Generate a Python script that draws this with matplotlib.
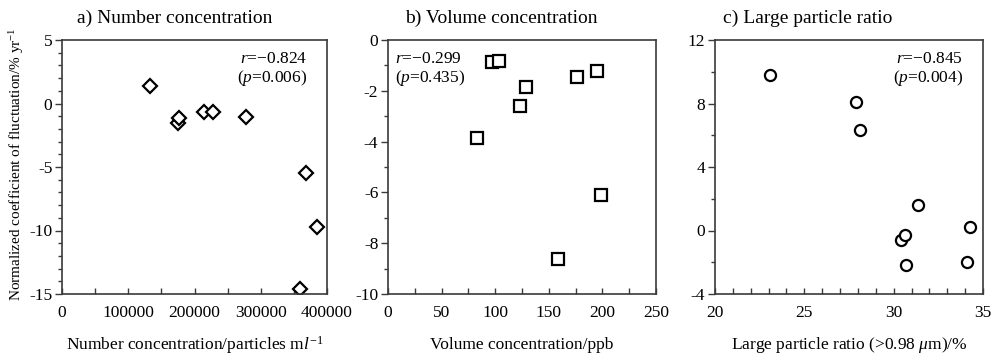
import matplotlib
matplotlib.use("Agg")
import matplotlib.pyplot as plt
from matplotlib.ticker import MultipleLocator

plt.rcParams['font.family'] = ['Liberation Serif', 'DejaVu Serif']
plt.rcParams['mathtext.fontset'] = 'custom'
plt.rcParams['mathtext.rm'] = 'Liberation Serif'
plt.rcParams['mathtext.it'] = 'Liberation Serif:italic'
plt.rcParams['axes.unicode_minus'] = False

# a) number concentration vs normalized coefficient
num_conc = [133000, 175500, 176500, 214000, 228500, 278000, 368000, 385500, 359000]
num_coef = [1.4, -1.5, -1.17, -0.70, -0.64, -1.09, -5.5, -9.7, -14.6]

# b) volume concentration
vol_conc = [97, 104, 129, 123, 83, 176, 195, 199, 159]
vol_coef = [-0.87, -0.84, -1.86, -2.58, -3.86, -1.46, -1.21, -6.09, -8.62]

# c) large particle ratio
lpr = [23.1, 27.9, 28.1, 31.35, 30.4, 30.65, 30.7, 34.25, 34.1]
lpr_coef = [9.8, 8.1, 6.34, 1.62, -0.59, -0.27, -2.17, 0.25, -1.96]

stats = [("-0.824", "0.006"), ("-0.299", "0.435"), ("-0.845", "0.004")]

W, H = 993, 362
fig = plt.figure(figsize=(W / 100, H / 100), dpi=100)

def px_axes(left, right, top=40, bottom=294):
    return fig.add_axes([left / W, (H - bottom) / H, (right - left) / W, (bottom - top) / H])

ax_a = px_axes(62, 327)
ax_b = px_axes(388, 656)
ax_c = px_axes(715, 983)

edge = '#3a3a3a'
fs = 12.5

def style(ax, xlim, ylim, xmaj, xmin, ymaj, ymin):
    ax.set_xlim(*xlim)
    ax.set_ylim(*ylim)
    ax.xaxis.set_major_locator(MultipleLocator(xmaj))
    ax.xaxis.set_minor_locator(MultipleLocator(xmin))
    ax.yaxis.set_major_locator(MultipleLocator(ymaj))
    ax.yaxis.set_minor_locator(MultipleLocator(ymin))
    for s in ax.spines.values():
        s.set_color(edge)
        s.set_linewidth(1.2)
    ax.tick_params(axis='x', which='both', direction='in', colors=edge, labelcolor='black',
                   labelsize=fs, pad=8)
    ax.tick_params(axis='x', which='major', length=4, width=1)
    ax.tick_params(axis='x', which='minor', length=4, width=1)
    ax.tick_params(axis='y', which='both', direction='out', colors=edge, labelcolor='black',
                   labelsize=fs, pad=2)
    ax.tick_params(axis='y', which='major', length=5, width=1)
    ax.tick_params(axis='y', which='minor', length=3, width=1)

style(ax_a, (0, 400000), (-15, 5), 100000, 50000, 5, 1)
style(ax_b, (0, 250), (-10, 0), 50, 25, 2, 1)
style(ax_c, (20, 35), (-4, 12), 5, 1, 4, 2)

mk = dict(linestyle='none', markerfacecolor='white', markeredgecolor='black', markeredgewidth=1.6)
ax_a.plot(num_conc, num_coef, marker='D', markersize=7.2, **mk)
ax_b.plot(vol_conc, vol_coef, marker='s', markersize=8.6, **mk)
ax_c.plot(lpr, lpr_coef, marker='o', markersize=8, **mk)

titles = ["a) Number concentration", "b) Volume concentration", "c) Large particle ratio"]
title_x = [0.057, 0.063, 0.03]
for ax, t, tx in zip([ax_a, ax_b, ax_c], titles, title_x):
    ax.text(tx, 1.087, t, transform=ax.transAxes, ha='left', va='center', fontsize=14)

# correlation annotations
ann_pos = [(0.925, 'right'), (0.026, 'left'), (0.925, 'right')]
for ax, (r, p), (x, ha) in zip([ax_a, ax_b, ax_c], stats, ann_pos):
    ax.text(x, 0.925, r"$r$=" + "\u2212" + r[1:], transform=ax.transAxes,
            ha=ha, va='center', fontsize=fs)
    ax.text(x, 0.85, r"($p$=" + p + ")", transform=ax.transAxes,
            ha=ha, va='center', fontsize=fs)

# axis labels
xlabels = [r"Number concentration/particles m$l^{-1}$",
           "Volume concentration/ppb",
           r"Large particle ratio (>0.98 $\mu$m)/%"]
for ax, lab in zip([ax_a, ax_b, ax_c], xlabels):
    pos = ax.get_position()
    fig.text(pos.x0 + pos.width / 2, (H - 345) / H, lab, ha='center', va='center', fontsize=fs)

fig.text(17 / W, (H - 164) / H, r"Normalized coefficient of fluctuation/% yr$^{-1}$",
         rotation=90, ha='center', va='center', fontsize=11)

fig.savefig("out.png", dpi=100)
